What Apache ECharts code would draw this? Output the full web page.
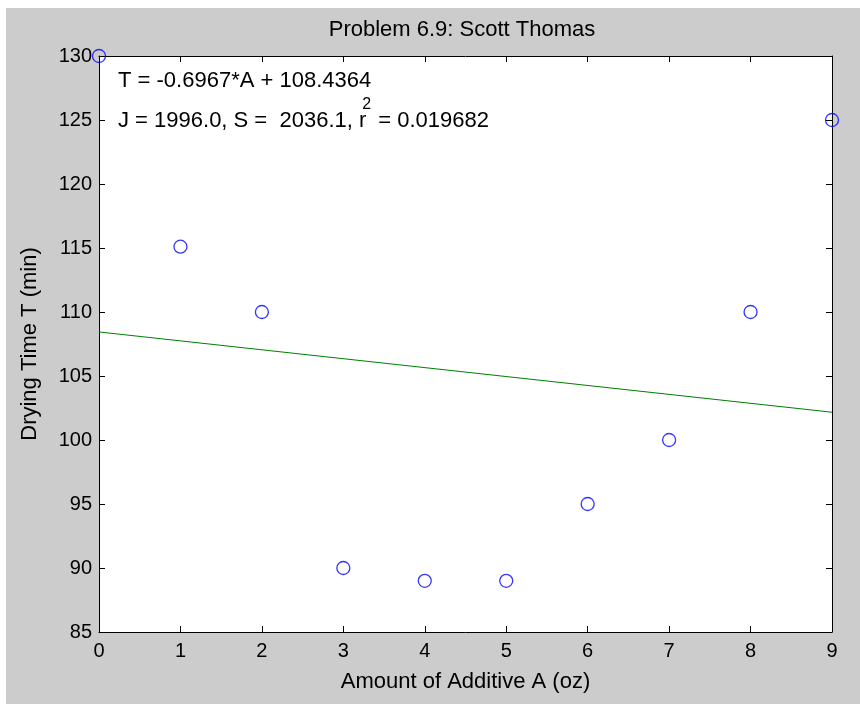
<!DOCTYPE html>
<html>
<head>
<meta charset="utf-8">
<title>Problem 6.9: Scott Thomas</title>
<script src="https://cdn.jsdelivr.net/npm/echarts@6/dist/echarts.min.js"></script>
<style>
  html, body { margin: 0; padding: 0; background: #ffffff; }
  #chart {
    position: absolute;
    left: 6px;
    top: 8px;
    width: 854px;
    height: 696px;
    background: #cccccc;
  }
</style>
</head>
<body>
<div id="chart"></div>
<script>
// 数据
const additiveA = [0, 1, 2, 3, 4, 5, 6, 7, 8, 9];
const dryingTime = [130, 115.1, 110, 90, 89, 89, 95, 100, 110, 125];
// 拟合直线两端点 (A = 0 和 A = 9)
const fitA = [0, 9];
const fitT = [108.44, 102.17];
const xTicks = { min: 0, max: 9, interval: 1 };
const yTicks = { min: 85, max: 130, interval: 5 };

const titleText = 'Problem 6.9: Scott Thomas';
const eqText = 'T = -0.6967*A + 108.4364';
const statsPre = 'J = 1996.0, S =  2036.1, r';
const statsSup = '2';
const statsPost = ' = 0.019682';

const FONT = '"Liberation Sans", Arial, sans-serif';
const FS = 22;      // 标题 / 轴名 / 注释
const TICK_FS = 20; // 刻度标签
const SUP_FS = 16;  // 上标

// 用 canvas 量文字宽度, 以便拼出 r² 的上标
const _measureCtx = document.createElement('canvas').getContext('2d');
function textWidth(str, size) {
  _measureCtx.font = size + 'px ' + FONT;
  return _measureCtx.measureText(str).width;
}

const chart = echarts.init(document.getElementById('chart'));

const baseAxis = {
  axisLine: { show: true, onZero: false, lineStyle: { color: '#000', width: 1 } },
  axisTick: { show: true, inside: true, length: 6, lineStyle: { color: '#000' } },
  splitLine: { show: false }
};

const noteX = 112;
const supX = noteX + textWidth(statsPre, FS) - 4;
const postX = supX + textWidth(statsSup, SUP_FS) + 1;

function txt(str, x, y, size, align) {
  return {
    type: 'text', x: x, y: y, silent: true,
    style: {
      text: str, font: size + 'px ' + FONT, fill: '#000',
      textAlign: align || 'left', textVerticalAlign: 'middle'
    }
  };
}

const option = {
  animation: false,
  grid: {
    left: 93, top: 48, right: 28, bottom: 72,
    show: true, backgroundColor: '#ffffff', borderWidth: 0
  },
  xAxis: [
    Object.assign({}, baseAxis, {
      type: 'value', position: 'bottom',
      min: xTicks.min, max: xTicks.max, interval: xTicks.interval,
      name: 'Amount of Additive A (oz)',
      nameLocation: 'middle', nameGap: 39,
      nameTextStyle: { fontFamily: FONT, fontSize: FS, color: '#000' },
      axisLabel: { fontFamily: FONT, fontSize: TICK_FS, color: '#000', margin: 9 }
    }),
    Object.assign({}, baseAxis, {
      type: 'value', position: 'top',
      min: xTicks.min, max: xTicks.max, interval: xTicks.interval,
      axisLabel: { show: false }
    })
  ],
  yAxis: [
    Object.assign({}, baseAxis, {
      type: 'value', position: 'left',
      min: yTicks.min, max: yTicks.max, interval: yTicks.interval,
      name: 'Drying Time T (min)',
      nameLocation: 'middle', nameGap: 58,
      nameTextStyle: { fontFamily: FONT, fontSize: FS, color: '#000' },
      axisLabel: { fontFamily: FONT, fontSize: TICK_FS, color: '#000', margin: 7 }
    }),
    Object.assign({}, baseAxis, {
      type: 'value', position: 'right',
      min: yTicks.min, max: yTicks.max, interval: yTicks.interval,
      axisLabel: { show: false }
    })
  ],
  series: [
    {
      type: 'line',
      data: fitA.map((a, i) => [a, fitT[i]]),
      symbol: 'none',
      lineStyle: { color: '#008000', width: 1 },
      z: 2
    },
    {
      type: 'scatter',
      data: additiveA.map((a, i) => [a, dryingTime[i]]),
      symbol: 'circle',
      symbolSize: 13,
      clip: false,
      itemStyle: { color: 'rgba(0,0,0,0)', borderColor: '#0000ff', borderWidth: 1.3 },
      z: 3
    }
  ],
  graphic: [
    txt(titleText, 456, 22, FS, 'center'),   // 标题居中于绘图区
    txt(eqText, noteX, 73, FS),
    txt(statsPre, noteX, 113, FS),
    txt(statsSup, supX, 97, SUP_FS),
    txt(statsPost, postX, 113, FS)
  ]
};

chart.setOption(option);
</script>
</body>
</html>
